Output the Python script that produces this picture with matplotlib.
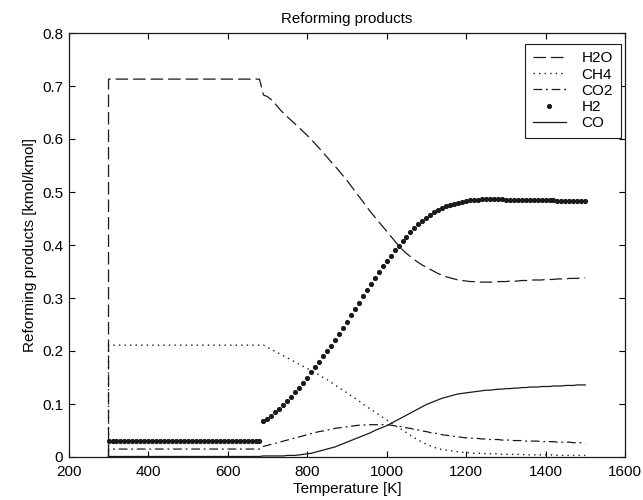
import numpy as np
import matplotlib
matplotlib.use('Agg')
import matplotlib.pyplot as plt

# Temperatura [K]: primeiro ponto (300 K, valor 0) e depois de 300 a 1500 K, passo de 10 K
T_low = [300, 310, 320, 330, 340, 350, 360, 370, 380, 390,
         400, 410, 420, 430, 440, 450, 460, 470, 480, 490,
         500, 510, 520, 530, 540, 550, 560, 570, 580, 590,
         600, 610, 620, 630, 640, 650, 660, 670, 680]
T_high = list(range(690, 1510, 10))
T = np.array([300] + T_low + T_high)

# faixa baixa (300-680 K): valores constantes
h2o_low = [
    0.713, 0.713, 0.713, 0.713, 0.713, 0.713, 0.713, 0.713, 0.713, 0.713,
    0.713, 0.713, 0.713, 0.713, 0.713, 0.713, 0.713, 0.713, 0.713, 0.713,
    0.713, 0.713, 0.713, 0.713, 0.713, 0.713, 0.713, 0.713, 0.713, 0.713,
    0.713, 0.713, 0.713, 0.713, 0.713, 0.713, 0.713, 0.713, 0.713]
ch4_low = [
    0.211, 0.211, 0.211, 0.211, 0.211, 0.211, 0.211, 0.211, 0.211, 0.211,
    0.211, 0.211, 0.211, 0.211, 0.211, 0.211, 0.211, 0.211, 0.211, 0.211,
    0.211, 0.211, 0.211, 0.211, 0.211, 0.211, 0.211, 0.211, 0.211, 0.211,
    0.211, 0.211, 0.211, 0.211, 0.211, 0.211, 0.211, 0.211, 0.211]
co2_low = [
    0.015, 0.015, 0.015, 0.015, 0.015, 0.015, 0.015, 0.015, 0.015, 0.015,
    0.015, 0.015, 0.015, 0.015, 0.015, 0.015, 0.015, 0.015, 0.015, 0.015,
    0.015, 0.015, 0.015, 0.015, 0.015, 0.015, 0.015, 0.015, 0.015, 0.015,
    0.015, 0.015, 0.015, 0.015, 0.015, 0.015, 0.015, 0.015, 0.015]
h2_low = [
    0.030, 0.030, 0.030, 0.030, 0.030, 0.030, 0.030, 0.030, 0.030, 0.030,
    0.030, 0.030, 0.030, 0.030, 0.030, 0.030, 0.030, 0.030, 0.030, 0.030,
    0.030, 0.030, 0.030, 0.030, 0.030, 0.030, 0.030, 0.030, 0.030, 0.030,
    0.030, 0.030, 0.030, 0.030, 0.030, 0.030, 0.030, 0.030, 0.030]
co_low = [
    0.001, 0.001, 0.001, 0.001, 0.001, 0.001, 0.001, 0.001, 0.001, 0.001,
    0.001, 0.001, 0.001, 0.001, 0.001, 0.001, 0.001, 0.001, 0.001, 0.001,
    0.001, 0.001, 0.001, 0.001, 0.001, 0.001, 0.001, 0.001, 0.001, 0.001,
    0.001, 0.001, 0.001, 0.001, 0.001, 0.001, 0.001, 0.001, 0.001]

# faixa alta (690-1500 K)
h2o_high = [
    0.683, 0.680, 0.674, 0.666, 0.657, 0.649, 0.642, 0.635, 0.628, 0.621, 0.614, 0.607,
    0.599, 0.591, 0.583, 0.574, 0.566, 0.557, 0.549, 0.540, 0.531, 0.522,
    0.512, 0.502, 0.492, 0.482, 0.472, 0.462, 0.453, 0.444, 0.435, 0.426,
    0.417, 0.408, 0.399, 0.391, 0.384, 0.378, 0.372, 0.367, 0.362, 0.358,
    0.354, 0.350, 0.346, 0.343, 0.340, 0.338, 0.336, 0.334, 0.333, 0.332,
    0.331, 0.331, 0.330, 0.330, 0.330, 0.330, 0.330, 0.331, 0.331, 0.331,
    0.332, 0.332, 0.332, 0.333, 0.333, 0.333, 0.334, 0.334, 0.334, 0.335,
    0.335, 0.335, 0.336, 0.336, 0.336, 0.337, 0.337, 0.337, 0.338, 0.338]
ch4_high = [
    0.211, 0.207, 0.203, 0.199, 0.195, 0.191, 0.187, 0.183, 0.179, 0.175, 0.171, 0.167,
    0.163, 0.159, 0.155, 0.150, 0.146, 0.141, 0.136, 0.131, 0.126, 0.121,
    0.116, 0.111, 0.106, 0.100, 0.095, 0.090, 0.085, 0.080, 0.075, 0.070,
    0.065, 0.060, 0.055, 0.051, 0.046, 0.041, 0.036, 0.032, 0.028, 0.024,
    0.021, 0.018, 0.016, 0.014, 0.013, 0.012, 0.011, 0.010, 0.009, 0.008,
    0.008, 0.007, 0.007, 0.007, 0.006, 0.006, 0.006, 0.006, 0.005, 0.005,
    0.005, 0.005, 0.005, 0.005, 0.004, 0.004, 0.004, 0.004, 0.004, 0.004,
    0.004, 0.004, 0.003, 0.003, 0.003, 0.003, 0.003, 0.003, 0.003, 0.003]
co2_high = [
    0.020, 0.022, 0.024, 0.026, 0.028, 0.030, 0.032, 0.034, 0.036, 0.038, 0.040, 0.042,
    0.044, 0.046, 0.048, 0.049, 0.051, 0.052, 0.054, 0.055, 0.056, 0.057,
    0.058, 0.059, 0.060, 0.060, 0.061, 0.061, 0.061, 0.061, 0.061, 0.061,
    0.060, 0.059, 0.058, 0.057, 0.055, 0.054, 0.052, 0.051, 0.049, 0.048,
    0.046, 0.045, 0.044, 0.042, 0.041, 0.040, 0.039, 0.038, 0.037, 0.036,
    0.036, 0.035, 0.035, 0.034, 0.034, 0.033, 0.033, 0.033, 0.032, 0.032,
    0.032, 0.031, 0.031, 0.031, 0.030, 0.030, 0.030, 0.030, 0.029, 0.029,
    0.029, 0.029, 0.028, 0.028, 0.028, 0.028, 0.027, 0.027, 0.027, 0.026]
h2_high = [
    0.067, 0.072, 0.078, 0.085, 0.091, 0.098, 0.106, 0.114, 0.122, 0.130, 0.140, 0.150,
    0.160, 0.170, 0.180, 0.190, 0.200, 0.210, 0.220, 0.232, 0.243, 0.255,
    0.267, 0.279, 0.291, 0.303, 0.315, 0.326, 0.338, 0.349, 0.360, 0.370,
    0.380, 0.390, 0.399, 0.408, 0.416, 0.424, 0.432, 0.439, 0.445, 0.451,
    0.457, 0.462, 0.466, 0.470, 0.473, 0.476, 0.478, 0.480, 0.482, 0.483,
    0.484, 0.485, 0.485, 0.486, 0.486, 0.486, 0.486, 0.486, 0.486, 0.485,
    0.485, 0.485, 0.485, 0.485, 0.485, 0.485, 0.484, 0.484, 0.484, 0.484,
    0.484, 0.484, 0.483, 0.483, 0.483, 0.483, 0.483, 0.483, 0.483, 0.483]
co_high = [
    0.002, 0.002, 0.002, 0.002, 0.002, 0.002, 0.003, 0.003, 0.003, 0.004, 0.005, 0.006,
    0.007, 0.009, 0.011, 0.013, 0.015, 0.017, 0.019, 0.022, 0.025, 0.028,
    0.031, 0.034, 0.037, 0.040, 0.043, 0.046, 0.050, 0.053, 0.056, 0.059,
    0.063, 0.067, 0.071, 0.075, 0.079, 0.083, 0.087, 0.091, 0.095, 0.099,
    0.102, 0.105, 0.108, 0.111, 0.113, 0.115, 0.117, 0.119, 0.120, 0.121,
    0.122, 0.123, 0.124, 0.125, 0.126, 0.126, 0.127, 0.128, 0.128, 0.129,
    0.129, 0.130, 0.130, 0.131, 0.131, 0.132, 0.132, 0.132, 0.133, 0.133,
    0.133, 0.134, 0.134, 0.134, 0.135, 0.135, 0.135, 0.136, 0.136, 0.136]

# séries completas (o ponto inicial em 300 K vale 0)
h2o = np.array([0.0] + h2o_low + h2o_high)
ch4 = np.array([0.0] + ch4_low + ch4_high)
co2 = np.array([0.0] + co2_low + co2_high)
h2 = np.array(h2_low + h2_high)
co = np.array([0.0] + co_low + co_high)

plt.rcParams['font.family'] = ['Liberation Sans', 'DejaVu Sans']
plt.rcParams['font.size'] = 11

fig = plt.figure(figsize=(6.43, 5.0), dpi=100)
ax = fig.add_axes([0.107, 0.086, 0.865, 0.848])

cor = '#1a1a1a'
ax.plot(T, h2o, color=cor, lw=0.9, linestyle=(0, (10, 4)), label='H2O')
ax.plot(T, ch4, color=cor, lw=1.0, linestyle=(0, (1, 3)), label='CH4')
ax.plot(T, co2, color=cor, lw=0.9, linestyle=(0, (7, 3, 1.5, 3)), label='CO2')
ax.plot(T[1:], h2, color=cor, linestyle='none', marker='o', markersize=2.7, label='H2')
ax.plot(T, co, color=cor, lw=0.9, linestyle='-', label='CO')

ax.set_xlim(200, 1600)
ax.set_ylim(0, 0.8)
ax.set_xticks(np.arange(200, 1601, 200))
ax.set_yticks(np.arange(0, 0.81, 0.1))
ax.set_yticklabels(['0', '0.1', '0.2', '0.3', '0.4', '0.5', '0.6', '0.7', '0.8'])
ax.tick_params(direction='in', top=True, right=True, length=4, width=0.8)
ax.tick_params(axis='x', pad=6)
ax.tick_params(axis='y', pad=4)
for s in ax.spines.values():
    s.set_linewidth(0.9)
    s.set_color(cor)

ax.set_title('Reforming products', fontsize=10.8, pad=7)
ax.set_xlabel('Temperature [K]', labelpad=2)
ax.set_ylabel('Reforming products [kmol/kmol]', labelpad=4)

leg = ax.legend(loc='upper right', bbox_to_anchor=(0.992, 0.975), borderaxespad=0,
                fancybox=False, edgecolor=cor, framealpha=1,
                handlelength=2.2, labelspacing=0.15, handletextpad=1.0, borderpad=0.5)
leg.get_frame().set_linewidth(0.8)

plt.savefig('out.png', dpi=100)
